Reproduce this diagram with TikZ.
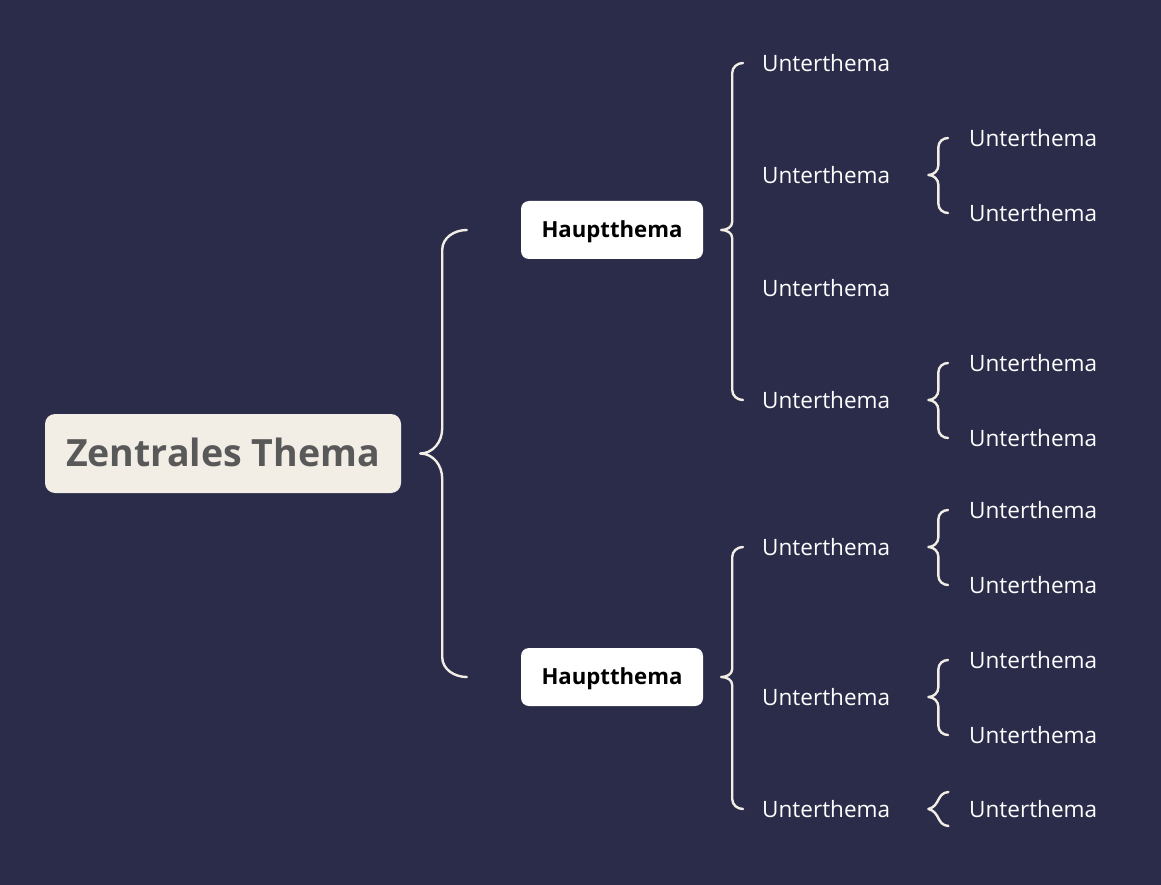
\documentclass[tikz,border=0pt]{standalone}
\usepackage{fontspec}
\setmainfont{Open Sans}
\usetikzlibrary{calc}
\definecolor{bg}{HTML}{2A2C4A}
\definecolor{cream}{HTML}{F2EEE6}
\definecolor{ztext}{HTML}{595959}
\newlength\mwid
\newcommand\fitsize[3]{%
  \settowidth{\mwid}{\fontsize{20pt}{24pt}\selectfont #3}%
  \pgfmathsetmacro#1{20*#2/\mwid}}
\newcommand\bracelink[6]{%
  \draw[brace] let \p1=(#1), \p2=(#2), \p3=(#3) in
    (\x2,\y2) to[out=180,in=90] (\x1+#4pt,\y2-#6pt)
    -- (\x1+#4pt,\y1+#5pt) to[out=-90,in=0] (\x1,\y1)
    to[out=0,in=90] (\x1+#4pt,\y1-#5pt)
    -- (\x1+#4pt,\y3+#6pt) to[out=-90,in=180] (\x3,\y3);}
\begin{document}
\fitsize{\usz}{128}{Unterthema}%
\fitsize{\hsz}{141}{\bfseries Hauptthema}%
\fitsize{\zsz}{314}{\bfseries Zentrales Thema}%
\pgfmathsetmacro\uch{0.714*\usz}%
\pgfmathsetmacro\hch{0.714*\hsz}%
\pgfmathsetmacro\zch{0.714*\zsz}%
\begin{tikzpicture}[x=1pt,y=-1pt]
\tikzset{
  brace/.style={draw=cream,line width=2.4pt,line cap=round,line join=round},
  zbox/.style={fill=cream,rounded corners=10pt,minimum width=356pt,minimum height=79pt,
    inner sep=0pt,text=ztext,font=\fontsize{\zsz pt}{\zsz pt}\selectfont\bfseries,
    text height=\zch pt,text depth=0pt},
  hbox/.style={fill=white,rounded corners=8pt,minimum width=182pt,minimum height=58pt,
    inner sep=0pt,text=black,font=\fontsize{\hsz pt}{\hsz pt}\selectfont\bfseries,
    text height=\hch pt,text depth=0pt},
  sub/.style={anchor=west,inner sep=0pt,text=white,font=\fontsize{\usz pt}{\usz pt}\selectfont,
    text height=\uch pt,text depth=0pt}
}
\fill[bg] (0,0) rectangle (1161,885);
\useasboundingbox (0,0) rectangle (1161,885);

\node[zbox] (zt) at (223,453.5) {Zentrales Thema};
\node[hbox] (h1) at (612,230) {Hauptthema};
\node[hbox] (h2) at (612,677) {Hauptthema};

\node[sub] (a1) at (762,63) {Unterthema};
\node[sub] (a2) at (762,175) {Unterthema};
\node[sub] (a3) at (762,288) {Unterthema};
\node[sub] (a4) at (762,400) {Unterthema};
\node[sub] (b1) at (762,547) {Unterthema};
\node[sub] (b2) at (762,697) {Unterthema};
\node[sub] (b3) at (762,809) {Unterthema};

\node[sub] (c1) at (969,138) {Unterthema};
\node[sub] (c2) at (969,213) {Unterthema};
\node[sub] (c3) at (969,363) {Unterthema};
\node[sub] (c4) at (969,438) {Unterthema};
\node[sub] (c5) at (969,510) {Unterthema};
\node[sub] (c6) at (969,585) {Unterthema};
\node[sub] (c7) at (969,660) {Unterthema};
\node[sub] (c8) at (969,735) {Unterthema};
\node[sub] (c9) at (969,809) {Unterthema};

% main brace
\coordinate (t0) at ($(zt.east)+(19,0)$);
\coordinate (e0a) at ($(h1.west)+(-54,0)$);
\coordinate (e0b) at ($(h2.west)+(-54,0)$);
\bracelink{t0}{e0a}{e0b}{22}{25}{20}

% Hauptthema braces
\coordinate (t1) at ($(h1.east)+(18,0)$);
\coordinate (e1a) at ($(a1.west)+(-19,0)$);
\coordinate (e1b) at ($(a4.west)+(-19,0)$);
\bracelink{t1}{e1a}{e1b}{11}{8}{10}
\coordinate (t2) at ($(h2.east)+(18,0)$);
\coordinate (e2a) at ($(b1.west)+(-19,0)$);
\coordinate (e2b) at ($(b3.west)+(-19,0)$);
\bracelink{t2}{e2a}{e2b}{11}{8}{10}

% small braces
\coordinate (s1) at ($(a2.east)+(38,0)$);
\bracelink{s1}{$(c1.west)+(-21,0)$}{$(c2.west)+(-21,0)$}{10}{10}{9}
\coordinate (s2) at ($(a4.east)+(38,0)$);
\bracelink{s2}{$(c3.west)+(-21,0)$}{$(c4.west)+(-21,0)$}{10}{10}{9}
\coordinate (s3) at ($(b1.east)+(38,0)$);
\bracelink{s3}{$(c5.west)+(-21,0)$}{$(c6.west)+(-21,0)$}{10}{10}{9}
\coordinate (s4) at ($(b2.east)+(38,0)$);
\bracelink{s4}{$(c7.west)+(-21,0)$}{$(c8.west)+(-21,0)$}{10}{10}{9}

% single brace
\coordinate (s5) at ($(b3.east)+(38,0)$);
\draw[brace] ($(s5)+(20,-17)$) .. controls ($(s5)+(8,-16)$) and ($(s5)+(12,-3)$) .. (s5)
  .. controls ($(s5)+(12,3)$) and ($(s5)+(8,16)$) .. ($(s5)+(20,17)$);
\end{tikzpicture}
\end{document}
